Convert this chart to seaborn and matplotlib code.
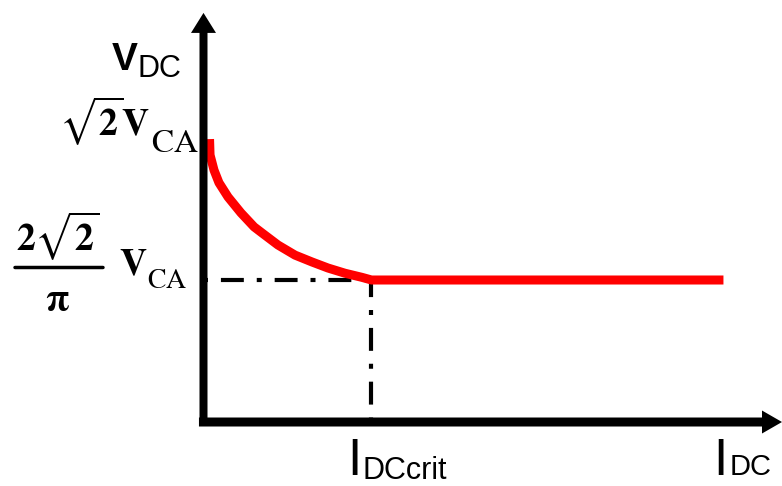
import matplotlib
matplotlib.use("Agg")
import matplotlib.pyplot as plt
import matplotlib.transforms as mtransforms
import numpy as np
import pandas as pd
import seaborn as sns

# ---------------- data (schematic, V in units of V_CA, I in units of I_DCcrit) -------------
I_curve = [0.036, 0.039, 0.0625, 0.092, 0.146, 0.223, 0.301, 0.348, 0.443, 0.545,
           0.646, 0.741, 0.842, 0.943, 1.0, 3.095]
V_curve = [1.414, 1.356, 1.301, 1.255, 1.203, 1.145, 1.094, 1.072, 1.028, 0.991,
           0.966, 0.944, 0.925, 0.910, 0.9003, 0.9003]
V_peak = 1.414      # sqrt(2) V_CA
V_crit = 0.9003     # 2 sqrt(2)/pi V_CA
I_crit = 1.0        # I_DCcrit
V_origin = 0.3826   # where the I axis crosses
V_axis_top = 1.874
I_axis_start = -0.027
I_axis_end = 3.4435

sns.set_style("white")
plt.rcParams["font.family"] = ["Liberation Sans", "DejaVu Sans"]

fig = plt.figure(figsize=(7.82, 4.86), dpi=100)
ax = fig.add_axes([0, 0, 1, 1])
ax.set_xlim(-1.2113, 3.4435)
ax.set_ylim(0.1493, 1.9211)
ax.axis("off")

px_x = 1 / 168.0
px_y = 1 / 274.3

# red characteristic
df = pd.DataFrame({"I": I_curve, "V": V_curve})
sns.lineplot(data=df, x="I", y="V", sort=False, estimator=None, color="#ff0000",
             linewidth=6.5, ax=ax, zorder=3)
ln = ax.lines[-1]
ln.set_solid_capstyle("butt")
ln.set_solid_joinstyle("round")

# dash-dot guides
ax.plot([0, I_crit], [V_crit, V_crit], color="black", lw=3,
        linestyle=(8.6, (5.5, 3.1, 1.2, 3.1)), dash_capstyle="butt", zorder=2)
ax.plot([I_crit, I_crit], [V_crit, V_origin], color="black", lw=3,
        linestyle=(1.4, (5.5, 3.1, 1.2, 3.1)), dash_capstyle="butt", zorder=2)

# axes with arrows
y0 = V_origin - 4 * px_y
ax.arrow(0, y0, 0, V_axis_top - y0, width=8 * px_x, head_width=25 * px_x,
         head_length=20 * px_y, length_includes_head=True, color="black", lw=0, zorder=4)
ax.arrow(I_axis_start, V_origin, I_axis_end - I_axis_start, 0, width=9 * px_y,
         head_width=23 * px_y, head_length=20 * px_x, length_includes_head=True,
         color="black", lw=0, zorder=4)


def off(dx, dy):
    return (dx * 0.72, -dy * 0.72)


def label(s, xy, d, size, ha="left", weight="normal", math=None):
    kw = dict(xy=xy, xytext=off(*d), textcoords="offset points", ha=ha, va="baseline",
              fontsize=size, fontweight=weight, annotation_clip=False, color="black")
    if math:
        kw["math_fontfamily"] = math
    ax.annotate(s, **kw)


# V_DC
label("V", (0, V_axis_top), (-66, 57), 28, ha="right", weight="bold")
label("DC", (0, V_axis_top), (-65.9, 64), 22)
# sqrt(2) V_CA
label(r"$\sqrt{\mathbf{2}}\mathbf{V}$", (0, V_peak), (-53, -4), 27, ha="right", math="stix")
label(r"$\mathrm{CA}$", (0, V_peak), (-52, 13), 24, math="stix")
# 2 sqrt(2)/pi V_CA  (built as numerator / bar / denominator)
label(r"$\mathbf{2}\sqrt{\mathbf{2}}$", (0, V_crit), (-145.5, -30), 27, ha="center", math="stix")
label(r"$\mathbf{\pi}$", (0, V_crit), (-146, 30), 27, ha="center", math="stix")
bar_tr = mtransforms.offset_copy(ax.transData, fig=fig, x=-188.5 * 0.72, y=12.5 * 0.72,
                                 units="points")
ax.annotate("", xy=(0, V_crit), xycoords=bar_tr, xytext=(88 * 0.72, 0),
            textcoords="offset points", annotation_clip=False,
            arrowprops=dict(arrowstyle="-", lw=2.5, color="black", shrinkA=0, shrinkB=0))
label(r"$\mathbf{V}$", (0, V_crit), (-56, -5), 27, ha="right", math="stix")
label(r"$\mathrm{CA}$", (0, V_crit), (-56, 8), 20, math="stix")
# I_DCcrit
label("I", (I_crit, V_origin), (-24.5, 53), 37)
label("DCcrit", (I_crit, V_origin), (-9.4, 57), 22)
# I_DC
label("I", (I_axis_end, V_origin), (-68.7, 53), 37)
label("DC", (I_axis_end, V_origin), (-52.4, 53), 21)

fig.savefig("out.png", dpi=100)
